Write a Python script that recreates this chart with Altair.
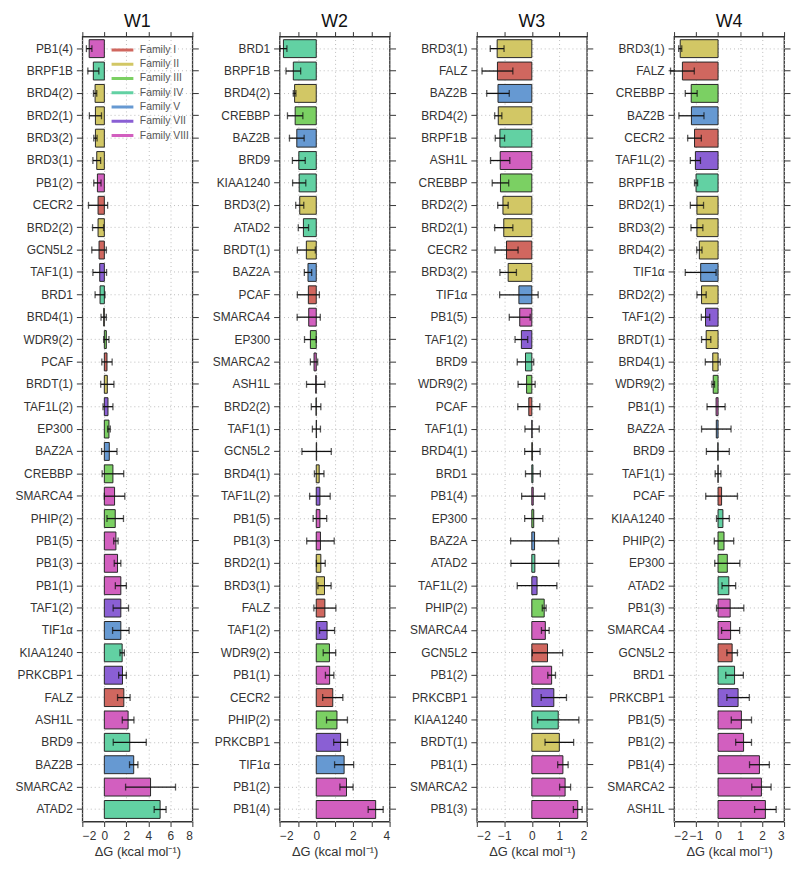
import altair as alt
import pandas as pd

FONT = "Liberation Sans"

# ---- families -------------------------------------------------------------
family_names = ["Family I", "Family II", "Family III", "Family IV",
                "Family V", "Family VII", "Family VIII"]
family_colors = ["#d0675f", "#d2c765", "#7bd063", "#62d1a3",
                 "#6699d2", "#8a5fd4", "#d25fbf"]
fam_I = ["CECR2", "GCN5L2", "PCAF", "FALZ"]
fam_II = ["BRD2(1)", "BRD2(2)", "BRD3(1)", "BRD3(2)", "BRD4(1)", "BRD4(2)", "BRDT(1)"]
fam_III = ["CREBBP", "EP300", "WDR9(2)", "PHIP(2)"]
fam_IV = ["BRPF1B", "BRD1", "BRD9", "KIAA1240", "ATAD2"]
fam_V = ["BAZ2A", "BAZ2B", "TIF1α"]
fam_VII = ["TAF1(1)", "TAF1(2)", "TAF1L(2)", "PRKCBP1"]
fam_VIII = ["PB1(1)", "PB1(2)", "PB1(3)", "PB1(4)", "PB1(5)", "SMARCA2", "SMARCA4", "ASH1L"]

# ---- W1 ------------------------------------------------------------------
names1 = ["PB1(4)", "BRPF1B", "BRD4(2)", "BRD2(1)", "BRD3(2)", "BRD3(1)", "PB1(2)", "CECR2",
          "BRD2(2)", "GCN5L2", "TAF1(1)", "BRD1", "BRD4(1)", "WDR9(2)", "PCAF", "BRDT(1)",
          "TAF1L(2)", "EP300", "BAZ2A", "CREBBP", "SMARCA4", "PHIP(2)", "PB1(5)", "PB1(3)",
          "PB1(1)", "TAF1(2)", "TIF1α", "KIAA1240", "PRKCBP1", "FALZ", "ASH1L", "BRD9",
          "BAZ2B", "SMARCA2", "ATAD2"]
vals1 = [-1.38, -1.0, -0.84, -0.81, -0.81, -0.69, -0.63, -0.57, -0.57, -0.48, -0.42, -0.39,
         -0.06, 0.18, 0.24, 0.27, 0.33, 0.42, 0.45, 0.78, 0.93, 0.99, 1.05, 1.2, 1.5, 1.5,
         1.5, 1.62, 1.65, 1.77, 2.16, 2.31, 2.67, 4.2, 5.07]
errs1 = [0.25, 0.5, 0.15, 0.55, 0.15, 0.35, 0.33, 0.87, 0.5, 0.66, 0.62, 0.45, 0.24, 0.24,
         0.47, 0.6, 0.45, 0.12, 0.7, 0.98, 0.93, 0.75, 0.2, 0.3, 0.5, 0.7, 0.75, 0.2, 0.35,
         0.57, 0.53, 1.5, 0.38, 2.27, 0.54]

# ---- W2 ------------------------------------------------------------------
names2 = ["BRD1", "BRPF1B", "BRD4(2)", "CREBBP", "BAZ2B", "BRD9", "KIAA1240", "BRD3(2)",
          "ATAD2", "BRDT(1)", "BAZ2A", "PCAF", "SMARCA4", "EP300", "SMARCA2", "ASH1L",
          "BRD2(2)", "TAF1(1)", "GCN5L2", "BRD4(1)", "TAF1L(2)", "PB1(5)", "PB1(3)", "BRD2(1)",
          "BRD3(1)", "FALZ", "TAF1(2)", "WDR9(2)", "PB1(1)", "CECR2", "PHIP(2)", "PRKCBP1",
          "TIF1α", "PB1(2)", "PB1(4)"]
vals2 = [-1.79, -1.25, -1.18, -1.15, -1.06, -0.95, -0.93, -0.9, -0.7, -0.54, -0.45, -0.43,
         -0.41, -0.32, -0.12, -0.03, -0.01, 0.01, 0.02, 0.16, 0.2, 0.2, 0.23, 0.25, 0.45, 0.47,
         0.59, 0.72, 0.73, 0.9, 1.13, 1.33, 1.52, 1.65, 3.24]
errs2 = [0.19, 0.4, 0.07, 0.42, 0.4, 0.35, 0.36, 0.22, 0.28, 0.49, 0.2, 0.6, 0.63, 0.32, 0.2,
         0.5, 0.26, 0.22, 0.8, 0.26, 0.56, 0.37, 0.75, 0.24, 0.36, 0.6, 0.41, 0.34, 0.23, 0.55,
         0.57, 0.38, 0.52, 0.36, 0.41]

# ---- W3 ------------------------------------------------------------------
names3 = ["BRD3(1)", "FALZ", "BAZ2B", "BRD4(2)", "BRPF1B", "ASH1L", "CREBBP", "BRD2(2)",
          "BRD2(1)", "CECR2", "BRD3(2)", "TIF1α", "PB1(5)", "TAF1(2)", "BRD9", "WDR9(2)", "PCAF",
          "TAF1(1)", "BRD4(1)", "BRD1", "PB1(4)", "EP300", "BAZ2A", "ATAD2", "TAF1L(2)",
          "PHIP(2)", "SMARCA4", "GCN5L2", "PB1(2)", "PRKCBP1", "KIAA1240", "BRDT(1)", "PB1(1)",
          "SMARCA2", "PB1(3)"]
vals3 = [-1.26, -1.25, -1.23, -1.22, -1.16, -1.15, -1.14, -1.05, -1.02, -0.92, -0.86, -0.47,
         -0.44, -0.38, -0.23, -0.19, -0.11, 0.01, 0.02, 0.04, 0.05, 0.07, 0.1, 0.11, 0.19, 0.45,
         0.49, 0.57, 0.72, 0.8, 0.96, 1.0, 1.13, 1.21, 1.67]
errs3 = [0.25, 0.56, 0.41, 0.13, 0.17, 0.35, 0.3, 0.19, 0.33, 0.42, 0.3, 0.7, 0.38, 0.23, 0.3,
         0.31, 0.4, 0.26, 0.28, 0.27, 0.42, 0.33, 0.87, 0.87, 0.72, 0.07, 0.14, 0.55, 0.14, 0.46,
         0.75, 0.52, 0.19, 0.2, 0.16]

# ---- W4 ------------------------------------------------------------------
names4 = ["BRD3(1)", "FALZ", "CREBBP", "BAZ2B", "CECR2", "TAF1L(2)", "BRPF1B", "BRD2(1)",
          "BRD3(2)", "BRD4(2)", "TIF1α", "BRD2(2)", "TAF1(2)", "BRDT(1)", "BRD4(1)", "WDR9(2)",
          "PB1(1)", "BAZ2A", "BRD9", "TAF1(1)", "PCAF", "KIAA1240", "PHIP(2)", "EP300", "ATAD2",
          "PB1(3)", "SMARCA4", "GCN5L2", "BRD1", "PRKCBP1", "PB1(5)", "PB1(2)", "PB1(4)",
          "SMARCA2", "ASH1L"]
vals4 = [-1.72, -1.62, -1.22, -1.21, -1.07, -1.03, -1.0, -0.96, -0.96, -0.85, -0.79, -0.75,
         -0.57, -0.54, -0.24, -0.22, -0.09, -0.08, -0.01, 0.0, 0.16, 0.22, 0.27, 0.42, 0.49,
         0.55, 0.57, 0.64, 0.75, 0.91, 1.06, 1.16, 1.88, 1.97, 2.15]
errs4 = [0.07, 0.54, 0.27, 0.57, 0.31, 0.23, 0.07, 0.3, 0.27, 0.12, 0.7, 0.21, 0.19, 0.21,
         0.34, 0.06, 0.41, 0.67, 0.52, 0.13, 0.72, 0.29, 0.44, 0.57, 0.31, 0.62, 0.41, 0.24,
         0.4, 0.51, 0.46, 0.36, 0.45, 0.44, 0.49]

titles = ["W1", "W2", "W3", "W4"]
x_domains = [(-2, 8, 2), (-2, 4, 1), (-2, 2, 1), (-2, 3, 1)]

family_of = {}
for fam, members in zip(family_names, [fam_I, fam_II, fam_III, fam_IV, fam_V, fam_VII, fam_VIII]):
    for m in members:
        family_of[m] = fam

color_scale = alt.Scale(domain=family_names, range=family_colors)
X_TITLE = "ΔG (kcal mol⁻¹)"


def panel(title, names, vals, errs, xd, show_legend):
    df = pd.DataFrame({"name": names, "value": vals, "err": errs})
    df["lo"] = df["value"] - df["err"]
    df["hi"] = df["value"] + df["err"]
    df["family"] = df["name"].map(family_of)
    xmin, xmax, step = xd
    ticks = list(range(xmin, xmax + 1, step))
    xs = alt.Scale(domain=[xmin, xmax], nice=False, zero=False)
    ys = alt.Scale(domain=names, paddingInner=0.2, paddingOuter=0.14)
    base = alt.Chart(df)

    bars = base.mark_bar(stroke="#262626", strokeWidth=1).encode(
        x=alt.X("value:Q", scale=xs,
                axis=alt.Axis(values=ticks, title=X_TITLE, grid=True, domain=False,
                              labelPadding=4, titlePadding=4, tickSize=5, format="d")),
        x2=alt.datum(0),
        y=alt.Y("name:N", scale=ys, sort=None,
                axis=alt.Axis(title=None, grid=True, domain=False, tickSize=6,
                              labelPadding=4, minExtent=69, maxExtent=69, labelLimit=80)),
        color=alt.Color("family:N", scale=color_scale, legend=None),
    )
    rules = base.mark_rule(color="#111111", strokeWidth=1.3).encode(
        x=alt.X("lo:Q", scale=xs, axis=None),
        x2="hi:Q",
        y=alt.Y("name:N", scale=ys, axis=None),
    )
    caps = base.transform_fold(["lo", "hi"], as_=["end", "pos"]).mark_tick(
        color="#111111", thickness=1.3, size=7).encode(
        x=alt.X("pos:Q", scale=xs, axis=None),
        y=alt.Y("name:N", scale=ys, axis=None),
    )
    frame = base.mark_point(opacity=0).encode(
        x=alt.X("value:Q", scale=xs,
                axis=alt.Axis(orient="top", values=ticks, labels=False, title=None,
                              grid=False, domain=False, tickSize=5, minExtent=5, maxExtent=5)),
        y=alt.Y("name:N", scale=ys,
                axis=alt.Axis(orient="right", labels=False, title=None, grid=False,
                              domain=False, tickSize=6, minExtent=6, maxExtent=6)),
    )
    layers = [bars, rules, caps, frame]
    if show_legend:
        leg = base.mark_rule(opacity=0, strokeWidth=3).encode(
            x=alt.X("value:Q", scale=xs, axis=None),
            y=alt.Y("name:N", scale=ys, axis=None),
            stroke=alt.Stroke(
                "family:N", scale=color_scale,
                legend=alt.Legend(orient="none", legendX=34, legendY=7, title=None,
                                  symbolType="M-2.2,0H2.2", symbolSize=100,
                                  symbolStrokeWidth=3, symbolOpacity=1, symbolDash=[1, 0],
                                  labelFont=FONT, labelFontSize=10.5, labelColor="#555555",
                                  labelOffset=11, rowPadding=1.4, padding=0)),
        )
        layers.append(leg)
    return alt.layer(*layers).resolve_axis(x="independent", y="independent").properties(
        width=111, height=792,
        title=alt.TitleParams(text=title, fontSize=18, font=FONT, fontWeight="normal",
                              color="#111111", anchor="middle", offset=0),
    )


panels = [
    panel(titles[0], names1, vals1, errs1, x_domains[0], True),
    panel(titles[1], names2, vals2, errs2, x_domains[1], False),
    panel(titles[2], names3, vals3, errs3, x_domains[2], False),
    panel(titles[3], names4, vals4, errs4, x_domains[3], False),
]

chart = alt.hconcat(*panels, spacing=10).resolve_legend(stroke="independent").properties(
    padding={"left": 5, "top": 0, "right": 0, "bottom": 0}
).configure_view(
    stroke="#333333", strokeWidth=1.3
).configure_axis(
    labelFont=FONT, labelFontSize=12, labelColor="#333333",
    titleFont=FONT, titleFontSize=13, titleFontWeight="normal", titleColor="#333333",
    tickColor="#333333", tickWidth=1,
    gridColor="#bdbdbd", gridDash=[1, 3], gridWidth=1,
)

chart.save("out.html", embed_options={"renderer": "svg", "actions": False})
